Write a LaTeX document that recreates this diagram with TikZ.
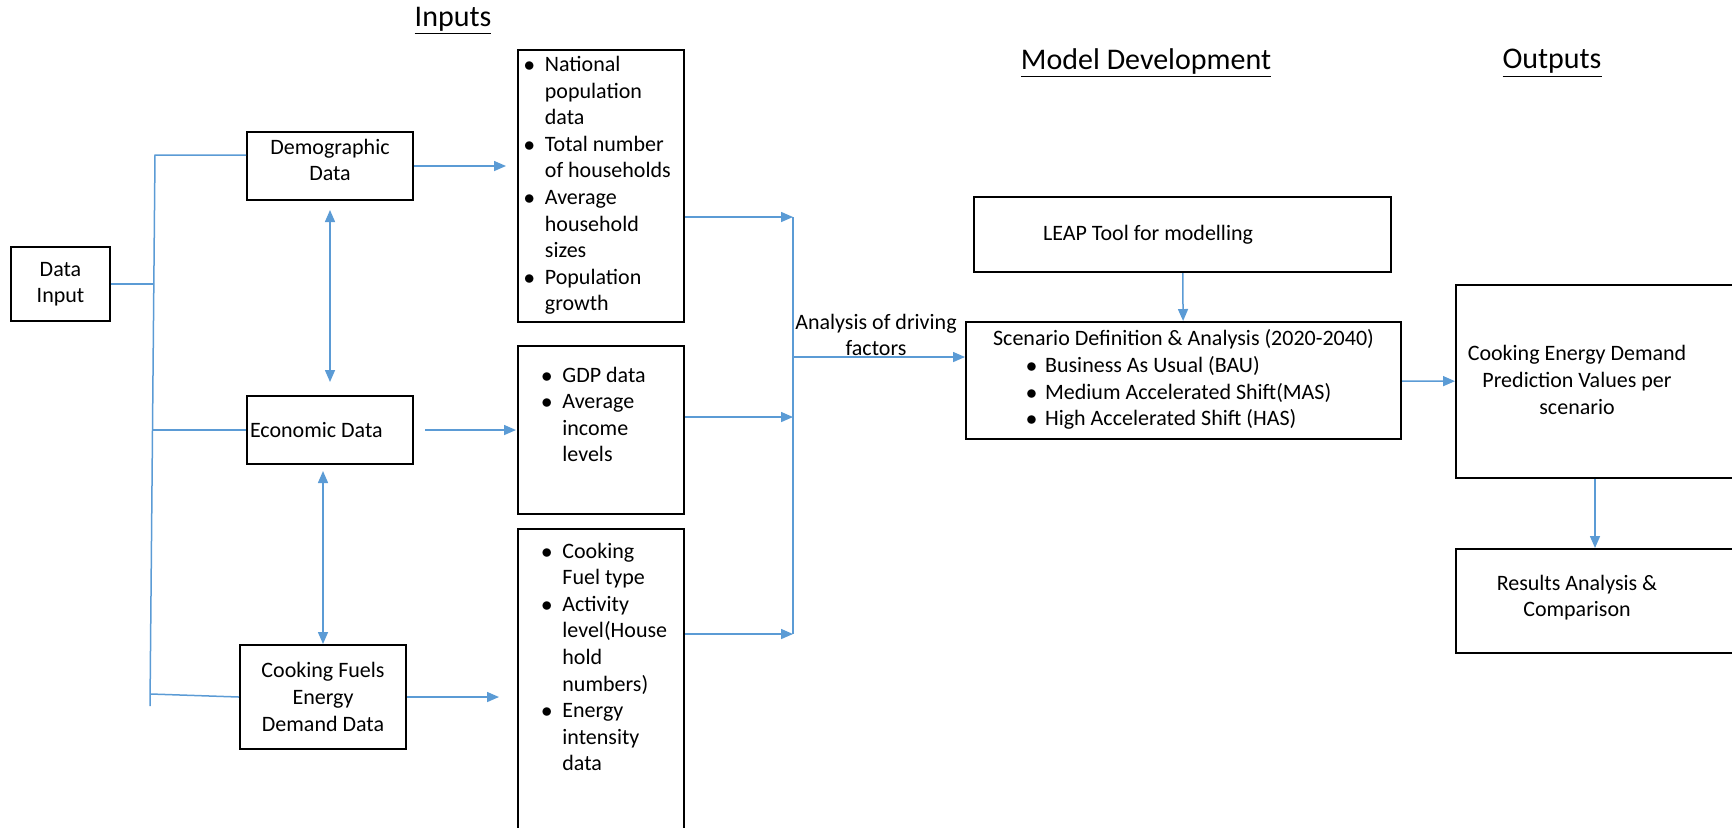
\documentclass[tikz,border=0pt]{standalone}
\usepackage{fontspec}
\setmainfont{Carlito}
\usepackage{xcolor}
\usetikzlibrary{arrows.meta,positioning,calc}

\definecolor{linkblue}{RGB}{91,155,213}
\newcommand{\bul}[1][10.5pt]{\makebox[#1][l]{$\bullet$}}

\begin{document}
\begin{tikzpicture}[
    x=0.5pt, y=-0.5pt,
    every node/.style={font=\fontsize{11}{13.3}\selectfont},
    box/.style={draw, line width=1pt, inner sep=0pt, align=center},
    heading/.style={font=\fontsize{15}{18}\selectfont},
    link/.style={draw=linkblue, line width=0.75pt},
    arrow/.style={-{Triangle[length=6pt,width=5pt]}, color=linkblue, line width=0.75pt},
    dblarrow/.style={{Triangle[length=6pt,width=5pt]}-{Triangle[length=6pt,width=5pt]}, color=linkblue, line width=0.75pt},
]
    \useasboundingbox (0,0) rectangle (1732,827);
    \clip (0,0) rectangle (1732,827);

    % headings
    \node[heading] (inhead) at (453,21) {\underline{Inputs}};
    \node[heading] (modhead) at (1146,63) {\underline{Model Development}};
    \node[heading] (outhead) at (1552,63) {\underline{Outputs}};

    % data sources
    \node[box, minimum width=49.5pt, minimum height=37pt] (input) at (60.5,284) {Data\\Input};
    \node[box, minimum width=83pt, minimum height=34pt] (demo) at (330,166) {Demographic\\Data\\[-7pt]};
    \node[box, minimum width=83pt, minimum height=34pt, text width=80pt, inner xsep=1.5pt, align=flush left] (econ) at (330,430) {Economic Data};
    \node[box, minimum width=83pt, minimum height=52pt] (fuel) at (323,697) {Cooking Fuels\\Energy\\Demand Data};

    % input lists
    \node[box, minimum width=83pt, minimum height=136pt] (pop) at (601,186) {};
    \node[box, minimum width=83pt, minimum height=84pt] (gdp) at (601,430) {};
    \node[box, minimum width=83pt, minimum height=185.5pt] (usage) at (601,714.5) {};
    \node[anchor=north west, inner sep=0pt] (poptext) at ([shift={(3.25pt,-1.7pt)}]pop.north west) {%
        \begin{tabular}{@{}l@{}l@{}}
        \bul & National\\
             & population\\
             & data\\
        \bul & Total number\\
             & of households\\
        \bul & Average\\
             & household\\
             & sizes\\
        \bul & Population\\
             & growth
        \end{tabular}};
    \node[anchor=north west, inner sep=0pt] (gdptext) at ([shift={(12pt,-9pt)}]gdp.north west) {%
        \begin{tabular}{@{}l@{}l@{}}
        \bul & GDP data\\
        \bul & Average\\
             & income\\
             & levels
        \end{tabular}};
    \node[anchor=north west, inner sep=0pt] (usagetext) at ([shift={(12pt,-5.5pt)}]usage.north west) {%
        \begin{tabular}{@{}l@{}l@{}}
        \bul & Cooking\\
             & Fuel type\\
        \bul & Activity\\
             & level(House\\
             & hold\\
             & numbers)\\
        \bul & Energy\\
             & intensity\\
             & data
        \end{tabular}};

    % model and outputs
    \node[box, minimum width=208.5pt, minimum height=37.5pt, text width=139.5pt, inner xsep=34.5pt, align=flush left] (leap) at (1182.5,234.5) {LEAP Tool for modelling};
    \node[box, minimum width=217.5pt, minimum height=58.5pt] (scen) at (1183.5,380.5) {%
        \begin{tabular}{@{}l@{}}
        Scenario Definition \& Analysis (2020-2040)\\
        \hspace{16.5pt}\bul[9.5pt]Business As Usual (BAU)\\
        \hspace{16.5pt}\bul[9.5pt]Medium Accelerated Shift(MAS)\\
        \hspace{16.5pt}\bul[9.5pt]High Accelerated Shift (HAS)
        \end{tabular}};
    \node[box, minimum width=144.5pt, minimum height=96.5pt] (pred) at (1600.5,381.5) {};
    \node[align=center] (predtext) at (1577,380) {Cooking Energy Demand\\Prediction Values per\\scenario};
    \node[box, minimum width=144.5pt, minimum height=52pt] (res) at (1600.5,601) {};
    \node[align=center] (restext) at (1577,597.5) {Results Analysis \&\\Comparison};

    % left bus
    \coordinate (bustop) at (155,155);
    \coordinate (busbot) at (150,706);
    \coordinate (busin) at (154,284);
    \coordinate (busecon) at (153,430);
    \coordinate (busfuel) at (151,694);
    \draw[link] ([yshift=5.5pt]demo.west) -- (bustop) -- (busbot);
    \draw[link] (input.east) -- (busin);
    \draw[link] (busecon) -- (econ.west);
    \draw[link] (busfuel) -- (fuel.west);

    \draw[dblarrow, shorten <=4.5pt, shorten >=6.5pt] (demo.south) -- (econ.north);
    \draw[dblarrow, shorten <=3pt] (fuel.north |- econ.south) -- (fuel.north);

    \draw[arrow, shorten >=5.5pt] (demo.east) -- (demo.east -| pop.west);
    \draw[arrow, shorten <=5.5pt, shorten >=0.5pt] (econ.east) -- (econ.east -| gdp.west);
    \draw[arrow, shorten >=9pt] (fuel.east) -- (fuel.east -| usage.west);

    % driving factors
    \coordinate (col1) at (793,217);
    \coordinate (col2) at (793,417);
    \coordinate (col3) at (793,634);
    \coordinate (colout) at (793,357);
    \draw[arrow] (pop.east |- col1) -- (col1);
    \draw[arrow] (gdp.east |- col2) -- (col2);
    \draw[arrow] (usage.east |- col3) -- (col3);
    \draw[link] (col1) -- (col3);
    \draw[arrow] (colout) -- (colout -| scen.west);
    \node[align=center] (drive) at (876,335) {Analysis of driving\\factors};

    \draw[arrow] (leap) -- (scen);
    \draw[arrow] (scen) -- (pred);
    \draw[arrow] ([xshift=-2.75pt]pred.south) -- ([xshift=-2.75pt]res.north);
\end{tikzpicture}
\end{document}
